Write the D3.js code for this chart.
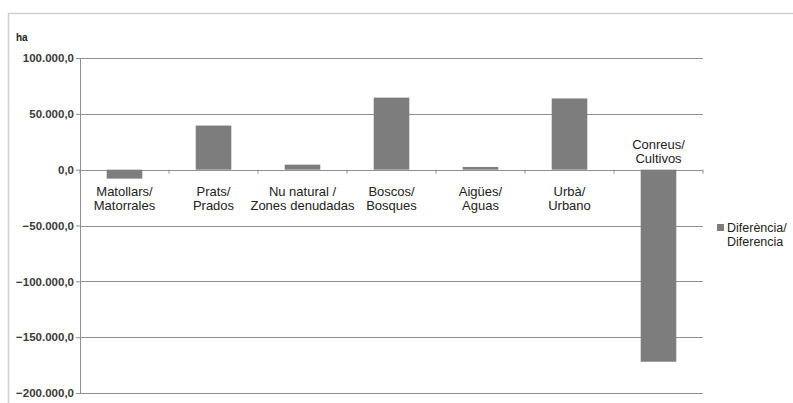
<!DOCTYPE html>
<html>
<head>
<meta charset="utf-8">
<script src="https://cdn.jsdelivr.net/npm/d3@7"></script>
<style>
  html, body { margin: 0; padding: 0; background: #fff; overflow: hidden; }
  svg { display: block; font-family: "Liberation Sans", Arial, sans-serif; }
</style>
</head>
<body>
<svg id="chart" width="793" height="403"></svg>
<script>
'use strict';

// ── Data ─────────────────────────────────────────────────────
const CATEGORIES = [
  ['Matollars/', 'Matorrales'],
  ['Prats/', 'Prados'],
  ['Nu natural /', 'Zones denudadas'],
  ['Boscos/', 'Bosques'],
  ['Aigües/', 'Aguas'],
  ['Urbà/', 'Urbano'],
  ['Conreus/', 'Cultivos'],
];
const VALUES      = [-8000, 39500, 4500, 64500, 2400, 63800, -172000];
const Y_TICKS     = [100000, 50000, 0, -50000, -100000, -150000, -200000];
const LEGEND_TEXT = ['Diferència/', 'Diferencia'];

const BAR_COLOR  = '#7d7d7d';
const GRID_COLOR = '#8f8f8f';

const svg = d3.select('#chart');

// outer frame
svg.append('rect')
  .attr('x', 8.5).attr('y', 13.5)
  .attr('width', 800).attr('height', 400)
  .attr('fill', 'none').attr('stroke', '#d0d0d0').attr('stroke-width', 1.5);

const plot = { left: 80, right: 703, top: 58, bottom: 393 };

const x = d3.scaleBand()
  .domain(d3.range(CATEGORIES.length))
  .range([plot.left, plot.right])
  .paddingInner(0.6)
  .paddingOuter(0.3);

const y = d3.scaleLinear()
  .domain([-200000, 100000])
  .range([plot.bottom, plot.top]);

const fmt = v => d3.format(',.1f')(v).replace(/,/g, '#').replace('.', ',').replace(/#/g, '.');

// gridlines
svg.append('g')
  .selectAll('line').data(Y_TICKS).join('line')
  .attr('x1', plot.left).attr('x2', plot.right)
  .attr('y1', d => Math.round(y(d)) + 0.5).attr('y2', d => Math.round(y(d)) + 0.5)
  .attr('stroke', GRID_COLOR).attr('stroke-width', 1);

// y axis
const yAxis = svg.append('g')
  .attr('transform', `translate(${plot.left},0)`)
  .call(d3.axisLeft(y).tickValues(Y_TICKS).tickSize(4).tickFormat(fmt));
yAxis.select('.domain').attr('stroke', GRID_COLOR);
yAxis.selectAll('.tick line').attr('stroke', GRID_COLOR);
yAxis.selectAll('.tick text')
  .attr('x', -6)
  .attr('font-size', 11.5).attr('font-weight', 'bold').attr('fill', '#3a3a3a')
  .attr('font-family', '"Liberation Sans", Arial, sans-serif');

// unit label
svg.append('text')
  .attr('x', 16).attr('y', 41)
  .attr('font-size', 10).attr('font-weight', 'bold').attr('fill', '#222')
  .text('ha');

// bars
svg.append('g')
  .selectAll('rect').data(VALUES).join('rect')
  .attr('x', (d, i) => x(i))
  .attr('width', x.bandwidth())
  .attr('y', d => y(Math.max(0, d)))
  .attr('height', d => Math.abs(y(d) - y(0)))
  .attr('fill', BAR_COLOR);

// category boundary ticks on the zero line
const bounds = d3.range(CATEGORIES.length + 1).map(i => plot.left + i * (plot.right - plot.left) / CATEGORIES.length);
svg.append('g')
  .selectAll('line').data(bounds).join('line')
  .attr('x1', d => d).attr('x2', d => d)
  .attr('y1', y(0)).attr('y2', y(0) + 4)
  .attr('stroke', GRID_COLOR);

// category labels
const labels = svg.append('g')
  .attr('font-size', 13).attr('fill', '#222').attr('text-anchor', 'middle');
CATEGORIES.forEach((lines, i) => {
  const cx = x(i) + x.bandwidth() / 2;
  const above = VALUES[i] < -100000;
  const y0 = above ? y(0) - 21 : y(0) + 26;
  lines.forEach((t, j) => {
    labels.append('text')
      .attr('x', cx).attr('y', y0 + j * 14)
      .text(t);
  });
});

// legend
svg.append('rect')
  .attr('x', 717).attr('y', 224).attr('width', 7).attr('height', 7)
  .attr('fill', BAR_COLOR);
LEGEND_TEXT.forEach((t, j) => {
  svg.append('text')
    .attr('x', 727).attr('y', 232 + j * 14)
    .attr('font-size', 12.5).attr('fill', '#222')
    .text(t);
});
</script>
</body>
</html>
